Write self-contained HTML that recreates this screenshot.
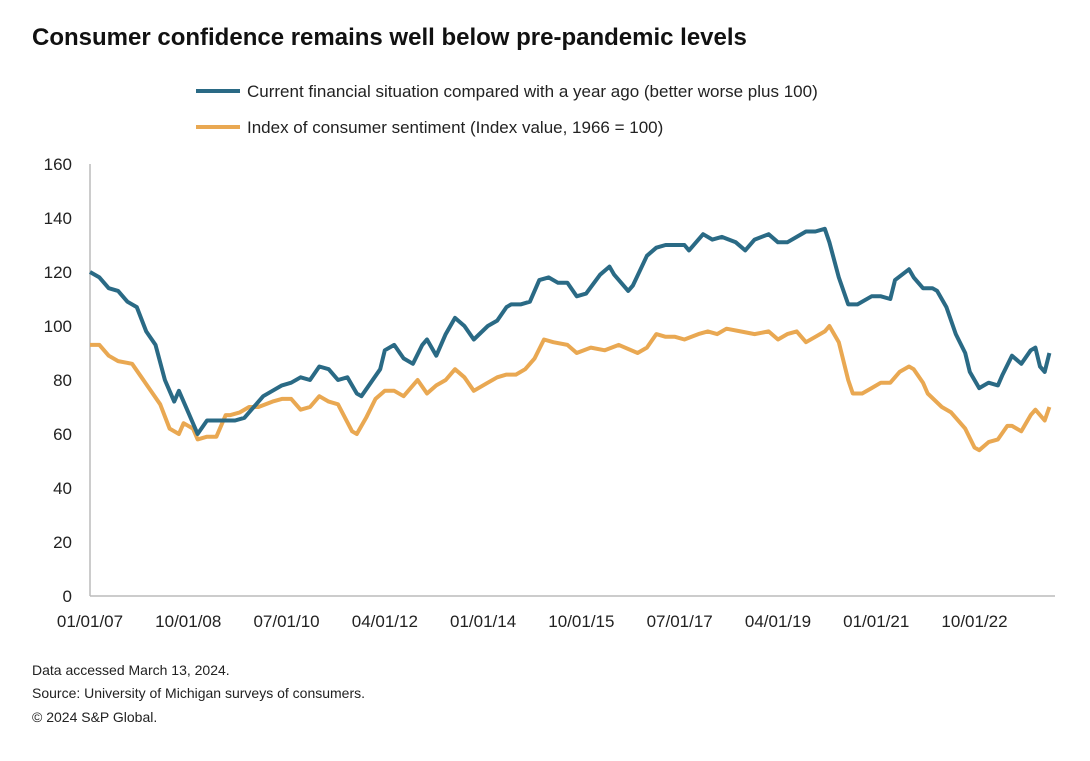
<!DOCTYPE html>
<html><head><meta charset="utf-8"><style>
body{margin:0;background:#fff;font-family:"Liberation Sans",sans-serif;}
svg text{font-family:"Liberation Sans",sans-serif;}
</style></head><body>
<svg id="c" width="1090" height="756">
<text x="32" y="45" font-size="24" font-weight="bold" fill="#111">Consumer confidence remains well below pre-pandemic levels</text>
<line x1="196" y1="91" x2="240" y2="91" stroke="#2a6a85" stroke-width="4"/>
<text x="247" y="97" font-size="17" fill="#222">Current financial situation compared with a year ago (better worse plus 100)</text>
<line x1="196" y1="127" x2="240" y2="127" stroke="#e9a852" stroke-width="4"/>
<text x="247" y="133" font-size="17" fill="#222">Index of consumer sentiment (Index value, 1966 = 100)</text>
<line x1="90" y1="164" x2="90" y2="596" stroke="#bbb" stroke-width="1.5"/>
<line x1="90" y1="596" x2="1055" y2="596" stroke="#bbb" stroke-width="1.5"/>
<g id="ticks"></g><g id="lines"></g>
<text x="32" y="675" font-size="14" fill="#222">Data accessed March 13, 2024.</text>
<text x="32" y="698" font-size="14" fill="#222">Source: University of Michigan surveys of consumers.</text>
<text x="32" y="722" font-size="14" fill="#222">© 2024 S&amp;P Global.</text>
</svg>
<script>
const yTicks=[0,20,40,60,80,100,120,140,160];
const xTickLabels=["01/01/07","10/01/08","07/01/10","04/01/12","01/01/14","10/01/15","07/01/17","04/01/19","01/01/21","10/01/22"];
const xTickMonths=[0,21,42,63,84,105,126,147,168,189];
const currentMonths=[0,2,4,6,8,10,12,14,16,18,19,21,23,25,27,29,31,33,35,37,39,41,43,45,47,49,51,53,55,57,58,60,62,63,65,67,69,71,72,74,76,78,80,82,85,87,89,90,92,94,96,98,100,102,104,106,109,111,112,115,116,119,121,123,125,127,128,131,133,135,138,140,142,145,147,149,151,153,155,157,158,160,162,164,167,169,171,172,175,176,178,180,181,183,185,187,188,190,192,194,195,197,199,201,202,203,204,205];
const currentValues=[120,118,114,113,109,107,98,93,80,72,76,68,60,65,65,65,65,66,70,74,76,78,79,81,80,85,84,80,81,75,74,79,84,91,93,88,86,93,95,89,97,103,100,95,100,102,107,108,108,109,117,118,116,116,111,112,119,122,119,113,115,126,129,130,130,130,128,134,132,133,131,128,132,134,131,131,133,135,135,136,131,118,108,108,111,111,110,117,121,118,114,114,113,107,97,90,83,77,79,78,82,89,86,91,92,85,83,90];
const sentimentMonths=[0,2,4,6,9,11,13,15,17,19,20,22,23,25,27,29,30,32,34,36,39,41,43,45,47,49,51,53,56,57,59,61,63,65,67,70,72,74,76,78,80,82,85,87,89,91,93,95,97,99,102,104,107,110,113,117,119,121,123,125,127,130,132,134,136,139,142,145,147,149,151,153,155,157,158,160,162,163,165,167,169,171,173,175,176,178,179,182,184,186,187,189,190,192,194,196,197,199,201,202,204,205];
const sentimentValues=[93,93,89,87,86,81,76,71,62,60,64,62,58,59,59,67,67,68,70,70,72,73,73,69,70,74,72,71,61,60,66,73,76,76,74,80,75,78,80,84,81,76,79,81,82,82,84,88,95,94,93,90,92,91,93,90,92,97,96,96,95,97,98,97,99,98,97,98,95,97,98,94,96,98,100,94,80,75,75,77,79,79,83,85,84,79,75,70,68,64,62,55,54,57,58,63,63,61,67,69,65,70];
const NS='http://www.w3.org/2000/svg';
const xS=m=>90+m*4.68, yS=v=>596-v*2.7;
const tg=document.getElementById('ticks'), lg=document.getElementById('lines');
yTicks.forEach(v=>{const t=document.createElementNS(NS,'text');
t.setAttribute('x',72);t.setAttribute('y',yS(v)+6);t.setAttribute('text-anchor','end');t.setAttribute('font-size','17');t.setAttribute('fill','#222');


t.textContent=v;tg.appendChild(t);});
xTickLabels.forEach((l,i)=>{const t=document.createElementNS(NS,'text');
t.setAttribute('x',xS(xTickMonths[i]));t.setAttribute('y',627);t.setAttribute('text-anchor','middle');t.setAttribute('font-size','17');t.setAttribute('fill','#222');


t.textContent=l;tg.appendChild(t);});
function line(ms,vs,col,name){const p=document.createElementNS(NS,'path');
p.setAttribute('d',ms.map((m,i)=>(i?'L':'M')+xS(m).toFixed(1)+' '+yS(vs[i]).toFixed(1)).join(''));
p.setAttribute('fill','none');p.setAttribute('stroke',col);p.setAttribute('stroke-width','4');p.setAttribute('stroke-linejoin','round');


lg.appendChild(p);}
line(sentimentMonths,sentimentValues,'#e9a852','sentiment-line');
line(currentMonths,currentValues,'#2a6a85','current-situation-line');
</script>
</body></html>
